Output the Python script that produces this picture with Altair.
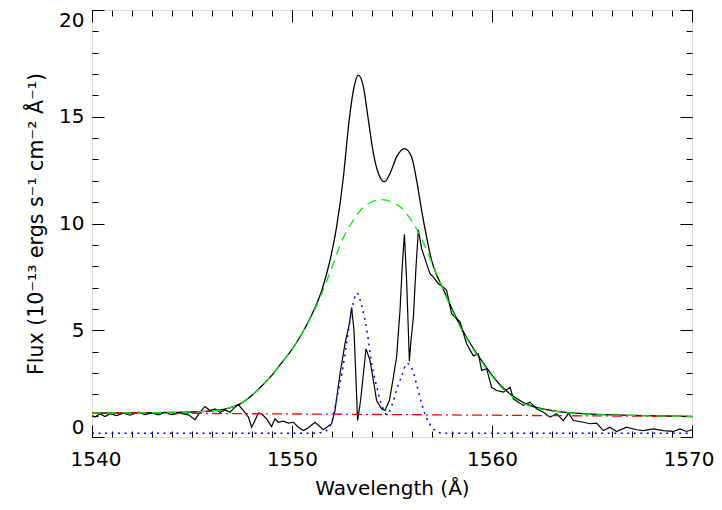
import altair as alt
import pandas as pd

# ---- data ----
obs_wl = [1540.0, 1540.15, 1540.4, 1540.65, 1540.9, 1541.23, 1541.57, 1541.9, 1542.32, 1542.65,
          1542.98, 1543.32, 1543.65, 1543.98, 1544.4, 1544.82, 1545.15, 1545.4, 1545.65, 1545.9,
          1546.15, 1546.4, 1546.65, 1546.9, 1547.15, 1547.32, 1547.57, 1547.82, 1547.98, 1548.15,
          1548.32, 1548.48, 1548.73, 1548.98, 1549.15, 1549.32, 1549.57, 1549.82, 1550.07, 1550.32,
          1550.57, 1550.82, 1551.15, 1551.57, 1551.98, 1552.15, 1552.4, 1552.65, 1552.87, 1552.98,
          1553.1, 1553.2, 1553.28, 1553.43, 1553.57, 1553.7, 1553.9, 1554.07, 1554.23, 1554.48,
          1554.65, 1554.87, 1555.07, 1555.23, 1555.4, 1555.52, 1555.62, 1555.73, 1555.87, 1555.95,
          1556.07, 1556.2, 1556.32, 1556.48, 1556.73, 1556.9, 1557.07, 1557.32, 1557.57, 1557.73,
          1557.98, 1558.15, 1558.4, 1558.73, 1559.07, 1559.32, 1559.48, 1559.73, 1559.98, 1560.23,
          1560.57, 1560.9, 1561.07, 1561.32, 1561.57, 1561.9, 1562.23, 1562.57, 1562.9, 1563.23,
          1563.57, 1563.82, 1564.07, 1564.57, 1564.9, 1565.23, 1565.57, 1565.9, 1566.23, 1566.73,
          1567.23, 1567.57, 1568.07, 1568.57, 1569.07, 1569.4, 1569.73, 1570.0]
obs_flux = [1.0, 0.93, 1.09, 0.96, 1.09, 1.0, 1.12, 1.02, 1.16, 1.05,
            1.13, 1.04, 1.15, 1.05, 1.12, 1.04, 0.81, 1.16, 1.43, 1.24,
            1.32, 1.16, 1.27, 1.16, 1.4, 1.52, 1.24, 0.93, 0.46, 0.77,
            1.13, 1.09, 0.85, 0.49, 0.85, 0.69, 0.74, 0.65, 0.69, 0.46,
            0.3, 0.43, 0.69, 0.34, 0.62, 1.24, 2.96, 4.37, 5.31, 6.06,
            5.0, 2.65, 0.77, 1.71, 2.96, 4.13, 3.59, 2.65, 1.71, 1.32,
            1.24, 1.71, 2.8, 3.74, 5.93, 8.12, 9.5, 7.34, 3.55, 4.52,
            5.62, 7.96, 9.71, 8.82, 8.12, 7.65, 7.49, 7.18, 7.02, 6.87,
            5.78, 5.62, 5.4, 4.37, 3.8, 3.9, 3.12, 3.2, 2.33, 2.18,
            2.1, 2.33, 1.79, 1.63, 1.48, 1.63, 1.32, 1.16, 0.93, 1.09,
            0.77, 1.12, 0.77, 0.69, 0.62, 0.65, 0.3, 0.46, 0.26, 0.46,
            0.34, 0.3, 0.38, 0.3, 0.26, 0.38, 0.26, 0.34]

model_wl = [1540, 1542, 1544, 1545, 1546, 1547, 1547.5, 1548, 1548.5, 1549, 1549.5, 1550, 1550.5,
            1551, 1551.5, 1551.9, 1552.23, 1552.57, 1552.82, 1553.07, 1553.32, 1553.57, 1553.82,
            1554.07, 1554.32, 1554.62, 1554.9, 1555.23, 1555.62, 1555.98, 1556.23, 1556.48, 1556.73,
            1556.98, 1557.25, 1557.5, 1558, 1558.5, 1559, 1559.5, 1560, 1560.5, 1561, 1561.5, 1562,
            1563, 1564, 1565, 1567, 1570]
model_flux = [1.12, 1.13, 1.15, 1.17, 1.22, 1.40, 1.6, 1.95, 2.4, 2.9, 3.5, 4.1, 4.85,
              5.75, 6.9, 8.27, 9.84, 12.18, 14.52, 16.24, 16.95, 16.4, 14.84,
              13.28, 12.34, 11.95, 12.34, 13.12, 13.51, 13.12, 12.03, 10.62, 9.37,
              8.27, 7.55, 7.05, 6.0, 5.05, 4.25, 3.55, 2.9, 2.35, 1.95, 1.65, 1.45,
              1.24, 1.13, 1.07, 1.01, 0.96]

broad_wl = [1540, 1542, 1544, 1545, 1546, 1547, 1547.5, 1548, 1548.5, 1549, 1549.5, 1550, 1550.5,
            1551, 1551.5, 1552, 1552.5, 1553, 1553.5, 1554, 1554.5, 1555, 1555.5, 1556, 1556.5,
            1557, 1557.5, 1558, 1558.5, 1559, 1559.5, 1560, 1560.5, 1561, 1561.5, 1562, 1563,
            1564, 1565, 1567, 1570]
broad_flux = [1.12, 1.13, 1.15, 1.17, 1.22, 1.40, 1.6, 1.95, 2.4, 2.9, 3.5, 4.1, 4.85,
              5.7, 6.75, 7.95, 9.2, 10.05, 10.7, 11.02, 11.12, 11.0, 10.7, 10.1, 9.25,
              8.15, 7.05, 5.95, 5.0, 4.2, 3.5, 2.85, 2.3, 1.9, 1.6, 1.42, 1.22,
              1.12, 1.06, 1.01, 0.96]

cont_wl = [1540, 1550, 1560, 1570]
cont_flux = [1.13, 1.08, 1.02, 0.96]

narrow_wl = [1540, 1551.0, 1551.5, 1551.75, 1552.0, 1552.25, 1552.5, 1552.75, 1553.0, 1553.25,
             1553.5, 1553.75, 1554.0, 1554.25, 1554.5, 1554.75, 1555.0, 1555.25, 1555.5, 1555.75,
             1556.0, 1556.25, 1556.5, 1556.75, 1557.0, 1557.25, 1557.5, 1570]
narrow_flux = [0.18, 0.18, 0.22, 0.32, 0.75, 1.85, 3.0, 4.5, 6.0, 6.74,
               6.1, 4.95, 3.35, 2.3, 1.45, 1.05, 1.5, 2.25, 2.9, 3.45,
               3.2, 2.4, 1.5, 0.85, 0.45, 0.25, 0.18, 0.18]

x_major = [1540, 1550, 1560, 1570]
x_minor = list(range(1540, 1571))
y_major = [0, 5, 10, 15, 20]
y_minor = list(range(0, 21))

FONT = "DejaVu Sans"
xs = alt.Scale(domain=[1540, 1570], nice=False, zero=False)
ys = alt.Scale(domain=[0, 20], nice=False, zero=False)

def df(wl, fl):
    return pd.DataFrame({"wl": wl, "flux": fl})

def tick_axis(orient, values, size):
    # negative tick length (inward ticks) passed as an expression
    return alt.Axis(orient=orient, values=values, ticks=True,
                    tickSize=alt.ExprRef(expr=str(-size)),
                    labels=False, domain=False, grid=False, title=None,
                    tickColor="black", tickWidth=1)

# layer 1: observed, with labelled bottom/left axes
obs = alt.Chart(df(obs_wl, obs_flux)).mark_line(color="black", strokeWidth=1.2).encode(
    x=alt.X("wl:Q", scale=xs, axis=alt.Axis(
        orient="bottom", values=x_major, format="d", ticks=False, domain=False, grid=False,
        labelFont=FONT, labelFontSize=20, labelColor="black", labelPadding=12,
        labelFlush=True, labelFlushOffset=22,
        title="Wavelength (Å)", titleFont=FONT, titleFontSize=20,
        titleFontWeight="normal", titleColor="black", titlePadding=9)),
    y=alt.Y("flux:Q", scale=ys, axis=alt.Axis(
        orient="left", values=y_major, format="d", ticks=False, domain=False, grid=False,
        labelFont=FONT, labelFontSize=20, labelColor="black", labelPadding=8,
        labelFlush=True, title="Flux (10⁻¹³ ergs s⁻¹ cm⁻² Å⁻¹)", titleFont=FONT,
        titleFontSize=20.5, titleFontWeight="normal", titleColor="black", titlePadding=12)),
    order="wl:Q",
)

model = alt.Chart(df(model_wl, model_flux)).mark_line(
    color="black", strokeWidth=1.3, interpolate="monotone").encode(
    x=alt.X("wl:Q", scale=xs, axis=tick_axis("bottom", x_major, 12)),
    y=alt.Y("flux:Q", scale=ys, axis=tick_axis("left", y_major, 12)),
)

cont = alt.Chart(df(cont_wl, cont_flux)).mark_line(
    color="#ff0000", strokeWidth=1.3, strokeDash=[10, 4, 2, 4]).encode(
    x=alt.X("wl:Q", scale=xs, axis=tick_axis("bottom", x_minor, 6)),
    y=alt.Y("flux:Q", scale=ys, axis=tick_axis("left", y_minor, 6)),
)

broad = alt.Chart(df(broad_wl, broad_flux)).mark_line(
    color="#00ee00", strokeWidth=1.3, strokeDash=[9, 6], interpolate="monotone").encode(
    x=alt.X("wl:Q", scale=xs, axis=tick_axis("top", x_major, 12)),
    y=alt.Y("flux:Q", scale=ys, axis=tick_axis("right", y_major, 12)),
)

narrow = alt.Chart(df(narrow_wl, narrow_flux)).mark_line(
    color="#0000ff", strokeWidth=1.5, strokeDash=[2, 4.5], interpolate="monotone").encode(
    x=alt.X("wl:Q", scale=xs, axis=tick_axis("top", x_minor, 6)),
    y=alt.Y("flux:Q", scale=ys, axis=tick_axis("right", y_minor, 6)),
)

chart = alt.layer(obs, model, cont, broad, narrow).resolve_axis(
    x="independent", y="independent"
).properties(
    width=600, height=427,
    autosize=alt.AutoSizeParams(type="none"),
    padding={"left": 84, "top": 2, "right": 22, "bottom": 64},
).configure_view(stroke="black", strokeWidth=1).configure(background="white")

chart.save("out.html", embed_options={"renderer": "svg", "actions": False})
